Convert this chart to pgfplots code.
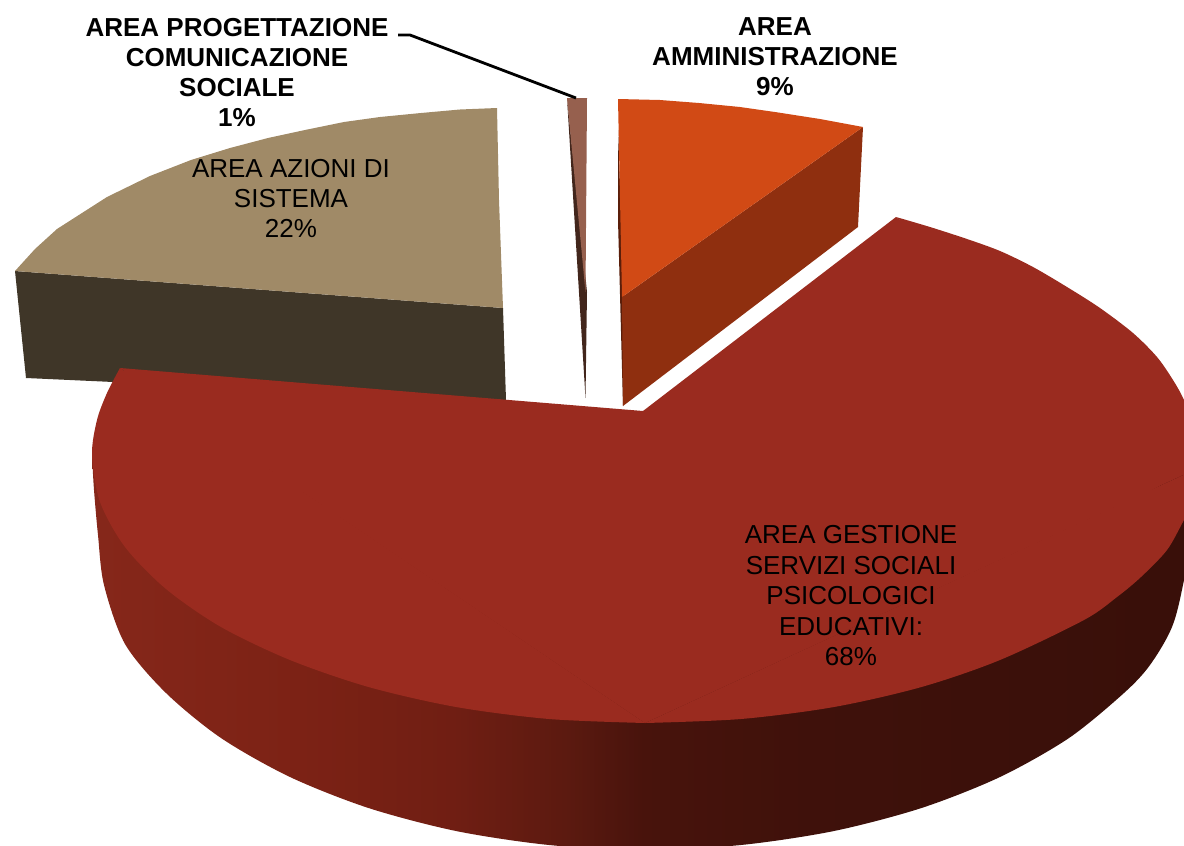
\documentclass[border=0pt]{standalone}
\usepackage{fontspec}
\setmainfont{Liberation Sans}
\usepackage{pgfplots}
\pgfplotsset{compat=1.18}

\definecolor{redtop}{RGB}{154,43,31}
\definecolor{tantop}{RGB}{160,138,103}
\definecolor{tanwall}{RGB}{63,54,40}
\definecolor{orangetop}{RGB}{209,74,21}
\definecolor{orangewall}{RGB}{143,47,15}
\definecolor{orangedark}{RGB}{90,30,10}
\definecolor{smalltop}{RGB}{150,96,78}
\definecolor{smallwall}{RGB}{66,38,28}

% wall of the big slice, dark towards the right
\pgfdeclarehorizontalshading{redwall}{100bp}{
  rgb(0bp)=(0.525,0.153,0.102);
  rgb(25bp)=(0.525,0.153,0.102);
  rgb(34.4bp)=(0.486,0.133,0.082);
  rgb(41.2bp)=(0.439,0.118,0.075);
  rgb(46.2bp)=(0.361,0.102,0.063);
  rgb(49.8bp)=(0.282,0.075,0.047);
  rgb(57.1bp)=(0.247,0.067,0.043);
  rgb(75bp)=(0.220,0.059,0.035);
  rgb(100bp)=(0.220,0.059,0.035)
}

\begin{document}
\begin{tikzpicture}
\begin{axis}[
    name=ax,
    hide axis,
    scale only axis,
    width=1184pt, height=846pt,
    xmin=0, xmax=1184, ymin=0, ymax=846,
    y dir=reverse,
    no marks,
]
% slice AZIONI DI SISTEMA
\addplot[fill=tanwall, draw=none] coordinates {(15,271) (503,308) (506,400) (26,378)};
\addplot[fill=tantop, draw=none] coordinates {
  (15,271) (35,249) (57,229) (107,197) (150,176) (191,160) (230,148) (268,138) (305,130)
  (344,122) (380,117) (421,113) (460,109.5) (497,108) (499,200) (503,308)};

% slice PROGETTAZIONE
\addplot[fill=smallwall, draw=none] coordinates {(567,98) (585.5,398) (587,292)};
\addplot[fill=smalltop, draw=none] coordinates {(567,98) (587,98) (585.5,292)};

% slice AMMINISTRAZIONE
\addplot[fill=orangedark, draw=none] coordinates {(618,130) (618,220) (623,406) (624,297)};
\addplot[fill=orangewall, draw=none] coordinates {(863,127) (858,227) (623,406) (622,297)};
\addplot[fill=orangetop, draw=none] coordinates {
  (618,99) (660,100) (699,103) (740,107) (775,112) (820,119) (863,127) (622,297)};

% slice GESTIONE SERVIZI: wall
\addplot[shading=redwall, draw=none, smooth] coordinates {
  (92,455) (94,490) (98,535) (104,585) (125,644) (166,693) (221,738) (290,777) (368.5,808)
  (456,831) (549,845) (645,850) (741,845) (834,831) (921.5,808) (1000,777) (1069,738)
  (1124,693) (1150,665) (1172,627) (1184,580) (1205,465)};
% slice GESTIONE SERVIZI: top, three arcs and the fan between them
\addplot[fill=redtop, draw=none] coordinates {
  (643,411) (896,217) (1205,465) (645,723) (120,368)};
\addplot[fill=redtop, draw=none, smooth] coordinates {
  (896,217) (930,227) (967,239) (1000,251) (1033,267) (1067,287) (1100,308) (1133,333)
  (1157,357) (1173,380) (1184,400) (1198,435) (1205,465)};
\addplot[fill=redtop, draw=none, smooth] coordinates {
  (1205,465) (1198,495) (1184,520) (1167,550) (1141,577) (1117,597) (1084,620) (1000,660)
  (921.5,687) (834,707) (741,719) (645,723)};
\addplot[fill=redtop, draw=none, smooth] coordinates {
  (645,723) (549,719) (456,707) (368.5,687) (290,660) (221,627) (166,589) (125,547)
  (100,502) (92,455) (97,420) (107,393) (120,368)};
% covers the seams along the chords
\addplot[redtop, line width=2pt] coordinates {(900,220.2) (1200,461) (1150,490) (645,721.5) (125,371.4)};

% leader line
\addplot[black, line width=2.8pt] coordinates {(398,35) (410,35) (576,98)};

\node[align=center, font=\fontsize{26}{30}\selectfont\bfseries] at (axis cs:237,73)
  {AREA PROGETTAZIONE\\COMUNICAZIONE\\SOCIALE\\1\%};
\node[align=center, font=\fontsize{26}{30}\selectfont\bfseries] at (axis cs:775,57)
  {AREA\\AMMINISTRAZIONE\\9\%};
\node[align=center, font=\fontsize{26}{30}\selectfont] at (axis cs:291,198)
  {AREA AZIONI DI\\SISTEMA\\22\%};
\node[align=center, font=\fontsize{26}{30.5}\selectfont] at (axis cs:851,596)
  {AREA GESTIONE\\SERVIZI SOCIALI\\PSICOLOGICI\\EDUCATIVI:\\68\%};
\end{axis}
\pgfresetboundingbox
\useasboundingbox (ax.south west) rectangle (ax.north east);
\end{tikzpicture}
\end{document}
